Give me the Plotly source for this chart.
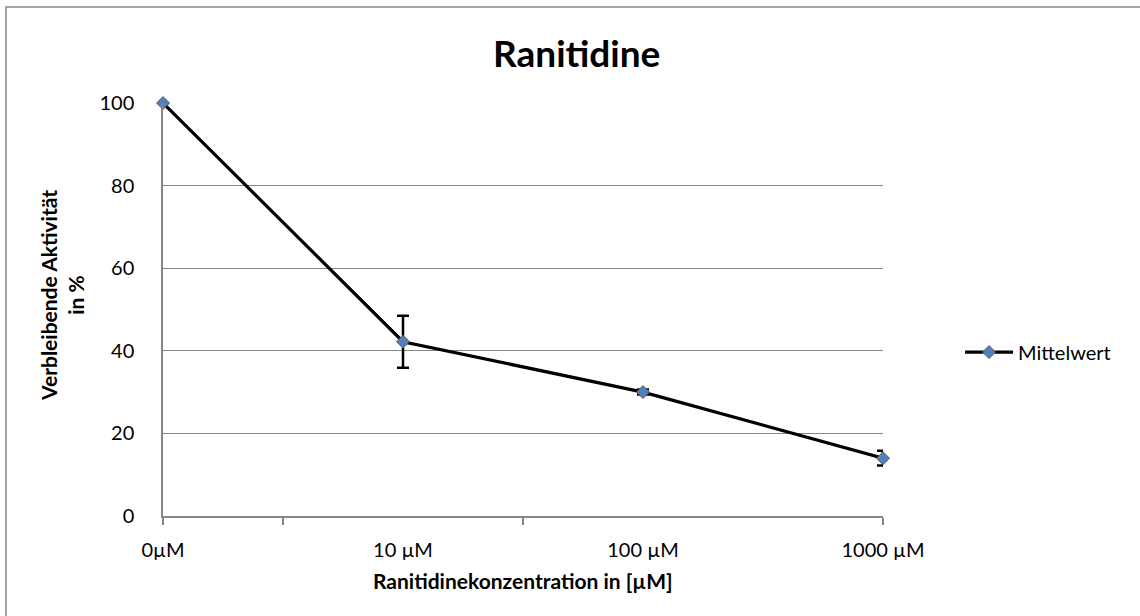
import plotly.graph_objects as go

# Concentration categories and measured remaining activity
categories = ["0µM", "10 µM", "100 µM", "1000 µM"]
positions = [0, 1, 2, 3]
activity = [100.0, 42.2, 30.0, 14.0]
activity_err = [0.0, 6.3, 0.6, 1.8]

y_ticks = [0, 20, 40, 60, 80, 100]
grid_vals = [20, 40, 60, 80]
x_minor_ticks = [0, 0.5, 1.5, 3]

FONT = "Lato"
AXIS_GREY = "#868686"

fig = go.Figure()

fig.add_trace(go.Scatter(
    x=positions,
    y=activity,
    mode="lines+markers",
    name="Mittelwert",
    line=dict(color="black", width=3.2),
    marker=dict(symbol="diamond", size=10, color="#4F81BD",
                line=dict(color="#5a5a5a", width=1)),
    error_y=dict(type="data", array=activity_err, visible=True,
                 color="black", thickness=2.5, width=6),
    cliponaxis=False,
))

fig.update_layout(
    width=1140,
    height=616,
    margin=dict(l=163, r=257, t=103, b=100),
    paper_bgcolor="white",
    plot_bgcolor="white",
    font=dict(family=FONT, size=20, color="black"),
    showlegend=True,
    legend=dict(
        x=1.107, xanchor="left", y=0.397, yanchor="middle",
        font=dict(family=FONT, size=20, color="black"),
        bgcolor="rgba(0,0,0,0)", itemwidth=48,
    ),
    xaxis=dict(
        range=[0, 3],
        tickmode="array",
        tickvals=positions,
        ticktext=categories,
        ticks="",
        ticklabelstandoff=15,
        showgrid=False,
        zeroline=False,
        showline=True,
        linecolor=AXIS_GREY,
        linewidth=1.5,
        tickfont=dict(family=FONT, size=20, color="black"),
        minor=dict(tickvals=x_minor_ticks, ticks="outside", ticklen=7,
                   tickcolor=AXIS_GREY, tickwidth=1.5, showgrid=False),
    ),
    yaxis=dict(
        range=[0, 100],
        tickmode="array",
        tickvals=y_ticks,
        ticks="",
        ticklabelstandoff=23,
        showgrid=False,
        zeroline=False,
        showline=True,
        linecolor=AXIS_GREY,
        linewidth=1.5,
        tickfont=dict(family=FONT, size=20, color="black"),
        minor=dict(tickvals=grid_vals, showgrid=True, gridcolor=AXIS_GREY,
                   gridwidth=1, ticks=""),
    ),
    annotations=[
        dict(text="<b>Ranitidine</b>", xref="paper", yref="paper",
             x=(576 - 163) / 720, y=(516 - 52) / 413,
             xanchor="center", yanchor="middle", showarrow=False,
             font=dict(family=FONT, size=37, color="black")),
        dict(text="<b>Ranitidinekonzentration in [µM]</b>", xref="paper", yref="paper",
             x=(523 - 163) / 720, y=(516 - 580) / 413,
             xanchor="center", yanchor="middle", showarrow=False,
             font=dict(family=FONT, size=21, color="black")),
        dict(text="<b>Verbleibende Aktivität<br>in %</b>", xref="paper", yref="paper",
             x=(62 - 163) / 720, y=(516 - 296) / 413,
             xanchor="center", yanchor="middle", showarrow=False, textangle=-90,
             font=dict(family=FONT, size=21, color="black")),
    ],
    shapes=[
        dict(type="rect", xref="paper", yref="paper",
             x0=(6 - 163) / 720, x1=1.6, y0=-0.5, y1=(516 - 7) / 413,
             line=dict(color=AXIS_GREY, width=1.5), fillcolor="rgba(0,0,0,0)",
             layer="below"),
    ],
)

fig.write_html("out.html")
